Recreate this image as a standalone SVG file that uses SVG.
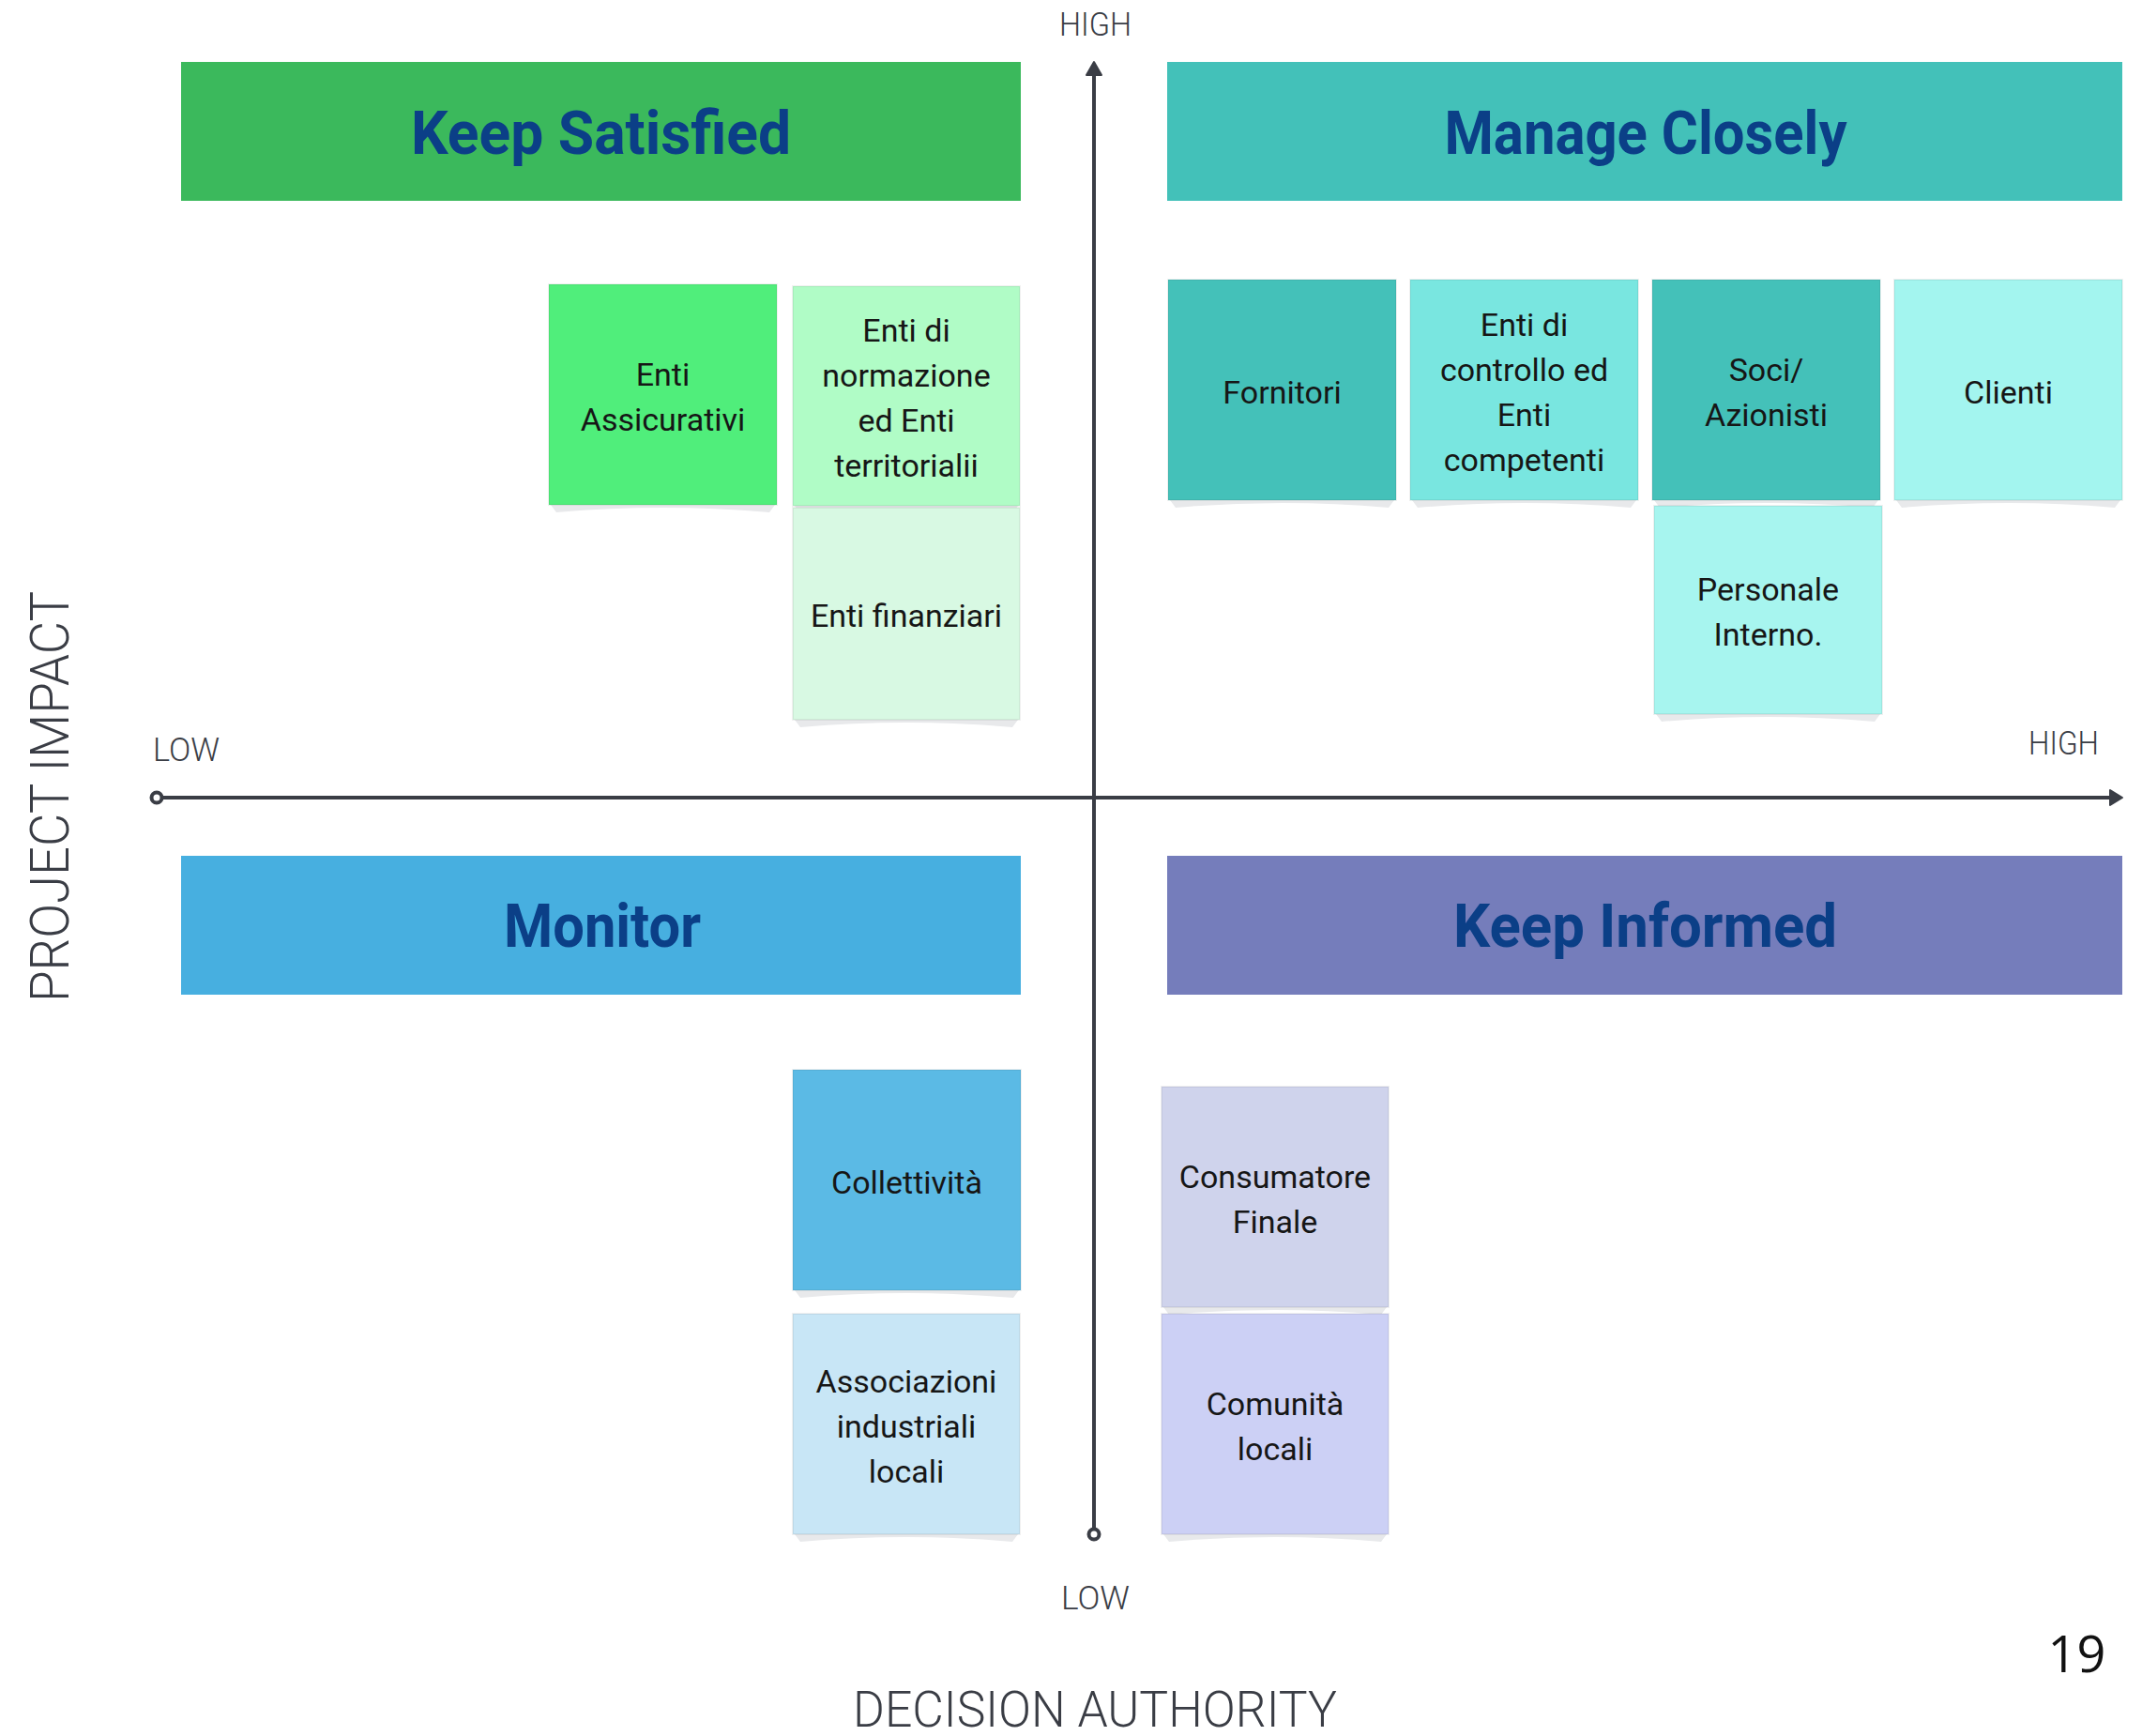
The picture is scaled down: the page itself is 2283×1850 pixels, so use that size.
<svg xmlns="http://www.w3.org/2000/svg" width="2283" height="1850" viewBox="0 0 2283 1850">
<style>
.title{font-family:Roboto,"Liberation Sans",sans-serif;font-weight:700;font-size:64px;fill:#0b3f87;text-anchor:middle}
.axl{font-family:Roboto,"Liberation Sans",sans-serif;font-weight:300;font-size:35px;fill:#3a3d45;text-anchor:middle}
.big{font-family:Roboto,"Liberation Sans",sans-serif;font-weight:300;fill:#3a3d45;text-anchor:middle}
.note text{font-family:Roboto,"Liberation Sans",sans-serif;font-size:34px;fill:#161616;text-anchor:middle}
.note rect{stroke:#000;stroke-opacity:0.06;stroke-width:2}
.shadow{fill:#e8e9eb}
.axis{stroke:#3a3d45;stroke-width:4;fill:none}
.page{font-family:"Open Sans","Noto Sans",sans-serif;font-size:54px;fill:#111;text-anchor:middle}
</style>
<rect x="0" y="0" width="2283" height="1850" fill="#ffffff"/>

<g id="header-keep-satisfied">
<rect x="193" y="66" width="895" height="148" fill="#3bb95c"/>
<text class="title" x="640.5" y="164" textLength="405" lengthAdjust="spacingAndGlyphs">Keep Satisfied</text>
</g>
<g id="header-manage-closely">
<rect x="1244" y="66" width="1018" height="148" fill="#43c1b9"/>
<text class="title" x="1754" y="164" textLength="429" lengthAdjust="spacingAndGlyphs">Manage Closely</text>
</g>
<g id="header-monitor">
<rect x="193" y="912" width="895" height="148" fill="#47afe0"/>
<text class="title" x="642" y="1009" textLength="210" lengthAdjust="spacingAndGlyphs">Monitor</text>
</g>
<g id="header-keep-informed">
<rect x="1244" y="912" width="1018" height="148" fill="#757dbb"/>
<text class="title" x="1753.5" y="1009" textLength="409" lengthAdjust="spacingAndGlyphs">Keep Informed</text>
</g>

<g id="connectors">
<line class="axis" x1="1166" y1="1629" x2="1166" y2="76"/>
<path d="M1166,66 L1174,80 L1158,80 Z" fill="#3a3d45" stroke="#3a3d45" stroke-width="2" stroke-linejoin="round"/>
<circle cx="1166" cy="1635" r="5.5" fill="#fff" stroke="#3a3d45" stroke-width="4"/>
<line class="axis" x1="173" y1="850" x2="2252" y2="850"/>
<path d="M2262,850 L2249,842 L2249,858 Z" fill="#3a3d45" stroke="#3a3d45" stroke-width="2" stroke-linejoin="round"/>
<circle cx="167" cy="850" r="5.5" fill="#fff" stroke="#3a3d45" stroke-width="4"/>
</g>

<g id="axis-labels">
<text class="axl" x="1167.5" y="38" textLength="77" lengthAdjust="spacingAndGlyphs">HIGH</text>
<text class="axl" x="198.5" y="811" textLength="71" lengthAdjust="spacingAndGlyphs">LOW</text>
<text class="axl" x="2199.5" y="804" textLength="75" lengthAdjust="spacingAndGlyphs">HIGH</text>
<text class="axl" x="1167.5" y="1715" textLength="73" lengthAdjust="spacingAndGlyphs">LOW</text>
<text class="big" font-size="58" transform="translate(73,849) rotate(-90)" x="0" y="0" textLength="438" lengthAdjust="spacingAndGlyphs">PROJECT IMPACT</text>
<text class="big" font-size="53" x="1167" y="1840" textLength="516" lengthAdjust="spacingAndGlyphs">DECISION AUTHORITY</text>
</g>

<g id="note-enti-assicurativi" class="note">
<path class="shadow" d="M587,538 L826,538 L820,546 Q706.5,536 593,546 Z"/>
<rect x="585" y="303" width="243" height="235" fill="#50ee7b"/>
<text x="706.5" y="411">Enti</text>
<text x="706.5" y="459">Assicurativi</text>
</g>
<g id="note-enti-normazione" class="note">
<path class="shadow" d="M847,539 L1085,539 L1079,547 Q966,537 853,547 Z"/>
<rect x="845" y="305" width="242" height="234" fill="#b0fcc6"/>
<text x="966" y="364">Enti di</text>
<text x="966" y="412">normazione</text>
<text x="966" y="460">ed Enti</text>
<text x="966" y="508">territorialii</text>
</g>
<g id="note-enti-finanziari" class="note">
<path class="shadow" d="M847,767 L1085,767 L1079,775 Q966,765 853,775 Z"/>
<rect x="845" y="541" width="242" height="226" fill="#d8f9e3"/>
<text x="966" y="668">Enti finanziari</text>
</g>
<g id="note-fornitori" class="note">
<path class="shadow" d="M1247,533 L1486,533 L1480,541 Q1366.5,531 1253,541 Z"/>
<rect x="1245" y="298" width="243" height="235" fill="#44c1b9"/>
<text x="1366.5" y="429.5">Fornitori</text>
</g>
<g id="note-enti-controllo" class="note">
<path class="shadow" d="M1505,533 L1744,533 L1738,541 Q1624.5,531 1511,541 Z"/>
<rect x="1503" y="298" width="243" height="235" fill="#79e6e0"/>
<text x="1624.5" y="357.5">Enti di</text>
<text x="1624.5" y="405.5">controllo ed</text>
<text x="1624.5" y="453.5">Enti</text>
<text x="1624.5" y="501.5">competenti</text>
</g>
<g id="note-soci-azionisti" class="note">
<path class="shadow" d="M1763,533 L2002,533 L1996,541 Q1882.5,531 1769,541 Z"/>
<rect x="1761" y="298" width="243" height="235" fill="#44c1b9"/>
<text x="1882.5" y="405.5">Soci/</text>
<text x="1882.5" y="453.5">Azionisti</text>
</g>
<g id="note-clienti" class="note">
<path class="shadow" d="M2021,533 L2260,533 L2254,541 Q2140.5,531 2027,541 Z"/>
<rect x="2019" y="298" width="243" height="235" fill="#a3f5ef"/>
<text x="2140.5" y="429.5">Clienti</text>
</g>
<g id="note-personale-interno" class="note">
<path class="shadow" d="M1765,761 L2004,761 L1998,769 Q1884.5,759 1771,769 Z"/>
<rect x="1763" y="539" width="243" height="222" fill="#a7f5ef"/>
<text x="1884.5" y="639.5">Personale</text>
<text x="1884.5" y="687.5">Interno.</text>
</g>
<g id="note-collettivita" class="note">
<path class="shadow" d="M847,1375 L1086,1375 L1080,1383 Q966.5,1373 853,1383 Z"/>
<rect x="845" y="1140" width="243" height="235" fill="#5bbae5"/>
<text x="966.5" y="1271.5">Collettività</text>
</g>
<g id="note-associazioni" class="note">
<path class="shadow" d="M847,1635 L1085,1635 L1079,1643 Q966,1633 853,1643 Z"/>
<rect x="845" y="1400" width="242" height="235" fill="#c8e6f6"/>
<text x="966" y="1483.5">Associazioni</text>
<text x="966" y="1531.5">industriali</text>
<text x="966" y="1579.5">locali</text>
</g>
<g id="note-consumatore-finale" class="note">
<path class="shadow" d="M1240,1393 L1478,1393 L1472,1401 Q1359,1391 1246,1401 Z"/>
<rect x="1238" y="1158" width="242" height="235" fill="#cfd3ec"/>
<text x="1359" y="1265.5">Consumatore</text>
<text x="1359" y="1313.5">Finale</text>
</g>
<g id="note-comunita-locali" class="note">
<path class="shadow" d="M1240,1635 L1478,1635 L1472,1643 Q1359,1633 1246,1643 Z"/>
<rect x="1238" y="1400" width="242" height="235" fill="#ccd0f5"/>
<text x="1359" y="1507.5">Comunità</text>
<text x="1359" y="1555.5">locali</text>
</g>

<text class="page" x="2213.5" y="1782">19</text>
</svg>
